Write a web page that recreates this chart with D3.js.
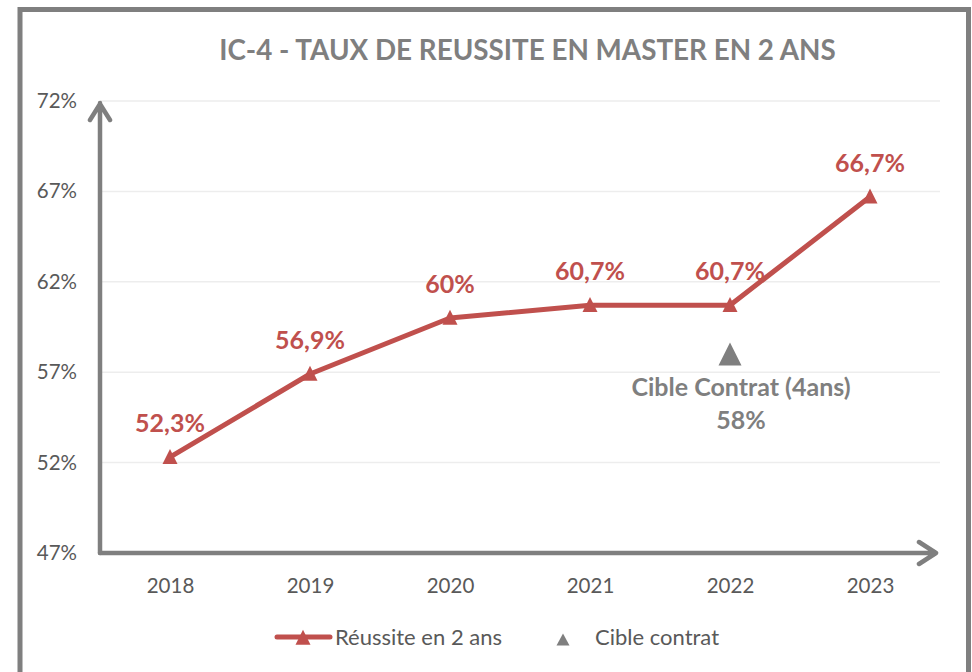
<!DOCTYPE html>
<html><head><meta charset="utf-8">
<script src="https://cdn.jsdelivr.net/npm/d3@7"></script>
<style>body{margin:0;background:#fff;} svg{display:block;}</style>
</head><body>
<svg id="c" width="972" height="672"></svg>
<script>
const title = "IC-4 - TAUX DE REUSSITE EN MASTER EN 2 ANS";
const years = ["2018","2019","2020","2021","2022","2023"];
const reussite = [52.3, 56.9, 60, 60.7, 60.7, 66.7];
const reussiteLabels = ["52,3%","56,9%","60%","60,7%","60,7%","66,7%"];
const cibleYear = "2022";
const cibleValue = 58;
const cibleLabel = ["Cible Contrat (4ans)", "58%"];
const yTicks = [47, 52, 57, 62, 67, 72];
const legendNames = ["Réussite en 2 ans", "Cible contrat"];

const RED = "#c0504d", GRAY = "#7f7f7f", TXT = "#595959";
const FONT = "Lato, 'Open Sans', sans-serif";
const svg = d3.select("#c");

// frame
svg.append("rect").attr("x",20).attr("y",9.5).attr("width",948.5).attr("height",690)
  .attr("fill","#fff").attr("stroke","#7f7f7f").attr("stroke-width",5);

const x = d3.scalePoint().domain(years).range([100,940]).padding(0.5);
const y = d3.scaleLinear().domain([47,72]).range([553,101]);

// gridlines
svg.append("g").selectAll("line").data(yTicks.slice(1)).join("line")
  .attr("x1",100).attr("x2",940).attr("y1",d=>y(d)).attr("y2",d=>y(d))
  .attr("stroke","#ededed").attr("stroke-width",1.5);

// y axis labels
const yAxis = d3.axisLeft(y).tickValues(yTicks).tickFormat(d=>d+"%").tickSize(0).tickPadding(0);
const gy = svg.append("g").attr("transform","translate(77,0)").call(yAxis);
gy.select(".domain").remove();
gy.selectAll("text").attr("fill",TXT).style("font-family",FONT).style("font-size","20.5px");

// x axis labels
const xAxis = d3.axisBottom(x).tickSize(0).tickPadding(0);
const gx = svg.append("g").attr("transform","translate(0,593)").call(xAxis);
gx.select(".domain").remove();
gx.selectAll("text").attr("fill",TXT).style("font-family",FONT).style("font-size","20.5px").attr("dy","0").attr("y",0);

// axis arrows
const ax = svg.append("g").attr("stroke","#7f7f7f").attr("stroke-width",4.5).attr("fill","none")
  .attr("stroke-linecap","round").attr("stroke-linejoin","round");
ax.append("path").attr("d",`M100,${y(47)} V${y(72)+2} M90,${y(72)+19} L100,${y(72)+3} L110,${y(72)+19}`);
ax.append("path").attr("d",`M100,${y(47)} H936 M919,${y(47)-11} L936,${y(47)} L919,${y(47)+11}`);

// title
svg.append("text").attr("x",527.5).attr("y",60).attr("text-anchor","middle")
  .attr("fill",GRAY).style("font-family",FONT).style("font-weight","bold").style("font-size","27.8px")
  .text(title);

// line
const line = d3.line().x((d,i)=>x(years[i])).y(d=>y(d));
svg.append("path").datum(reussite).attr("d",line).attr("fill","none")
  .attr("stroke",RED).attr("stroke-width",5).attr("stroke-linejoin","round");

function triPath(w,h){ return `M0,${-h*0.55} L${w/2},${h*0.45} L${-w/2},${h*0.45} Z`; }
svg.append("g").selectAll("path").data(reussite).join("path")
  .attr("d",triPath(15,15)).attr("fill",RED)
  .attr("transform",(d,i)=>`translate(${x(years[i])},${y(d)})`);

svg.append("g").selectAll("text").data(reussite).join("text")
  .attr("x",(d,i)=>x(years[i])).attr("y",d=>y(d)-25)
  .attr("text-anchor","middle").attr("fill",RED)
  .style("font-family",FONT).style("font-weight","bold").style("font-size","25px")
  .text((d,i)=>reussiteLabels[i]);

// target
svg.append("path").attr("d",triPath(23,23))
  .attr("fill",GRAY).attr("transform",`translate(${x(cibleYear)},${y(cibleValue)+1})`);
svg.append("g").selectAll("text").data(cibleLabel).join("text")
  .attr("x",x(cibleYear)+11).attr("y",(d,i)=>y(cibleValue)+42+i*33)
  .attr("text-anchor","middle").attr("fill",GRAY)
  .style("font-family",FONT).style("font-weight","bold").style("font-size","25px")
  .text(d=>d);

// legend
const lg = svg.append("g");
lg.append("line").attr("x1",277).attr("x2",330).attr("y1",637).attr("y2",637)
  .attr("stroke",RED).attr("stroke-width",5).attr("stroke-linecap","round");
lg.append("path").attr("d",triPath(15,15)).attr("fill",RED).attr("transform","translate(303,638)");
lg.append("text").attr("x",335).attr("y",645).attr("fill",TXT)
  .style("font-family",FONT).style("font-size","22px").text(legendNames[0]);
lg.append("path").attr("d",triPath(13,12)).attr("fill",GRAY)
  .attr("transform","translate(563,640)");
lg.append("text").attr("x",595).attr("y",645).attr("fill",TXT)
  .style("font-family",FONT).style("font-size","22px").text(legendNames[1]);
</script>
</body></html>
